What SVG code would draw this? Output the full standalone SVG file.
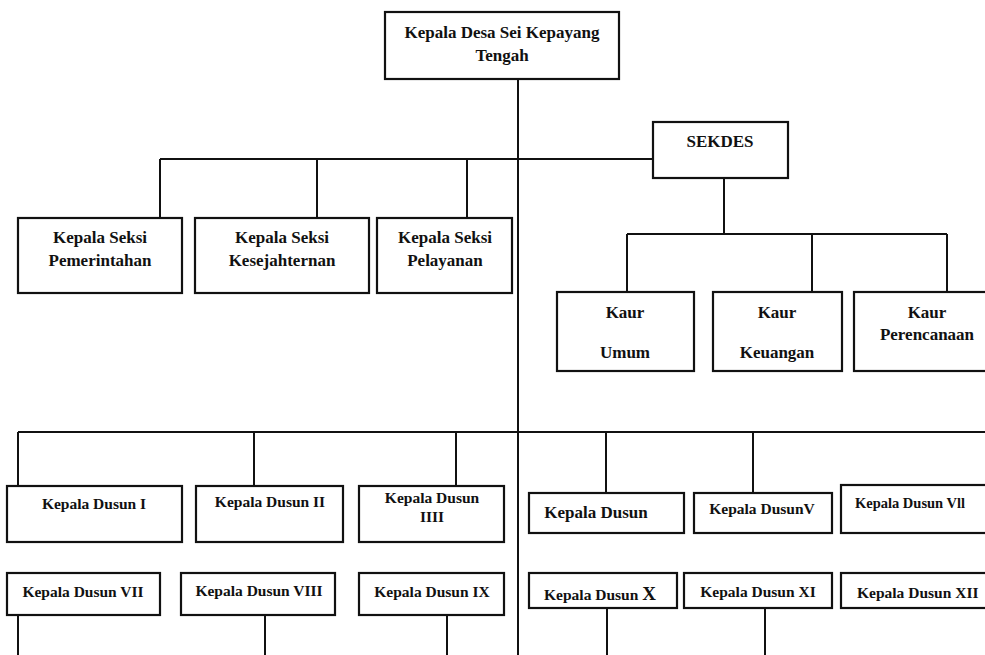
<svg xmlns="http://www.w3.org/2000/svg" width="985" height="655" viewBox="0 0 985 655">
<style>
.box{fill:#fff;stroke:#111;stroke-width:2.2}
.ln{fill:none;stroke:#111;stroke-width:2}
text{font-family:"Liberation Serif","Times New Roman",serif;font-weight:bold;fill:#111;text-anchor:middle}
.t17{font-size:17px}
.t15{font-size:15.5px}
</style>
<rect width="985" height="655" fill="#fff"/>
<g id="connectors">
<path class="ln" d="M518 79V655"/>
<path class="ln" d="M160 159H653M160 159V218M317 159V218M467 159V218"/>
<path class="ln" d="M724 178V234M627 234H947M627 234V292M812 234V292M947 234V292"/>
<path class="ln" d="M18 432H985M18 432V486M254 432V486M456 432V486M606 432V493M753 432V493"/>
<path class="ln" d="M18 615V655M265 615V655M447 615V655M607 608V655M765 608V655"/>
</g>
<g id="kepala-desa"><rect class="box" x="385" y="12" width="234" height="67"/><text class="t17" x="502" y="38">Kepala Desa Sei Kepayang</text><text class="t17" x="502" y="61">Tengah</text></g>
<g id="sekdes"><rect class="box" x="653" y="122" width="135" height="56"/><text class="t17" x="720" y="147">SEKDES</text></g>
<g id="seksi-pemerintahan"><rect class="box" x="18" y="218" width="164" height="75"/><text class="t17" x="100" y="243">Kepala Seksi</text><text class="t17" x="100" y="266">Pemerintahan</text></g>
<g id="seksi-kesejahteraan"><rect class="box" x="195" y="218" width="174" height="75"/><text class="t17" x="282" y="243">Kepala Seksi</text><text class="t17" x="282" y="266">Kesejahternan</text></g>
<g id="seksi-pelayanan"><rect class="box" x="377" y="218" width="135" height="75"/><text class="t17" x="445" y="243">Kepala Seksi</text><text class="t17" x="445" y="266">Pelayanan</text></g>
<g id="kaur-umum"><rect class="box" x="557" y="292" width="137" height="79"/><text class="t17" x="625" y="318">Kaur</text><text class="t17" x="625" y="358">Umum</text></g>
<g id="kaur-keuangan"><rect class="box" x="713" y="292" width="129" height="79"/><text class="t17" x="777" y="318">Kaur</text><text class="t17" x="777" y="358">Keuangan</text></g>
<g id="kaur-perencanaan"><rect class="box" x="854" y="292" width="140" height="79"/><text class="t17" x="927" y="318">Kaur</text><text class="t17" x="927" y="340">Perencanaan</text></g>
<g id="dusun-1"><rect class="box" x="7" y="486" width="175" height="56"/><text class="t15" x="94" y="509">Kepala Dusun I</text></g>
<g id="dusun-2"><rect class="box" x="196" y="486" width="147" height="56"/><text class="t15" x="270" y="507">Kepala Dusun II</text></g>
<g id="dusun-4"><rect class="box" x="359" y="486" width="145" height="56"/><text class="t15" x="432" y="503">Kepala Dusun</text><text class="t15" x="432" y="522">IIII</text></g>
<g id="dusun-blank"><rect class="box" x="529" y="493" width="155" height="40"/><text class="t17" x="596" y="518">Kepala Dusun</text></g>
<g id="dusun-5"><rect class="box" x="694" y="493" width="138" height="40"/><text class="t15" x="762" y="514">Kepala DusunV</text></g>
<g id="dusun-7b"><rect class="box" x="841" y="485" width="150" height="48"/><text class="t15" x="910" y="508" style="font-size:14.5px">Kepala Dusun  Vll</text></g>
<g id="dusun-7"><rect class="box" x="7" y="573" width="153" height="42"/><text class="t15" x="83" y="597">Kepala Dusun VII</text></g>
<g id="dusun-8"><rect class="box" x="181" y="573" width="154" height="42"/><text class="t15" x="259" y="596">Kepala Dusun VIII</text></g>
<g id="dusun-9"><rect class="box" x="359" y="573" width="145" height="42"/><text class="t15" x="432" y="597">Kepala Dusun IX</text></g>
<g id="dusun-10"><rect class="box" x="529" y="573" width="148" height="35"/><text class="t15" x="600" y="600">Kepala Dusun <tspan style="font-size:19px">X</tspan></text></g>
<g id="dusun-11"><rect class="box" x="684" y="573" width="148" height="35"/><text class="t15" x="758" y="597">Kepala Dusun XI</text></g>
<g id="dusun-12"><rect class="box" x="841" y="573" width="150" height="35"/><text class="t15" x="857" y="598" style="text-anchor:start">Kepala Dusun  XII</text></g>
</svg>
